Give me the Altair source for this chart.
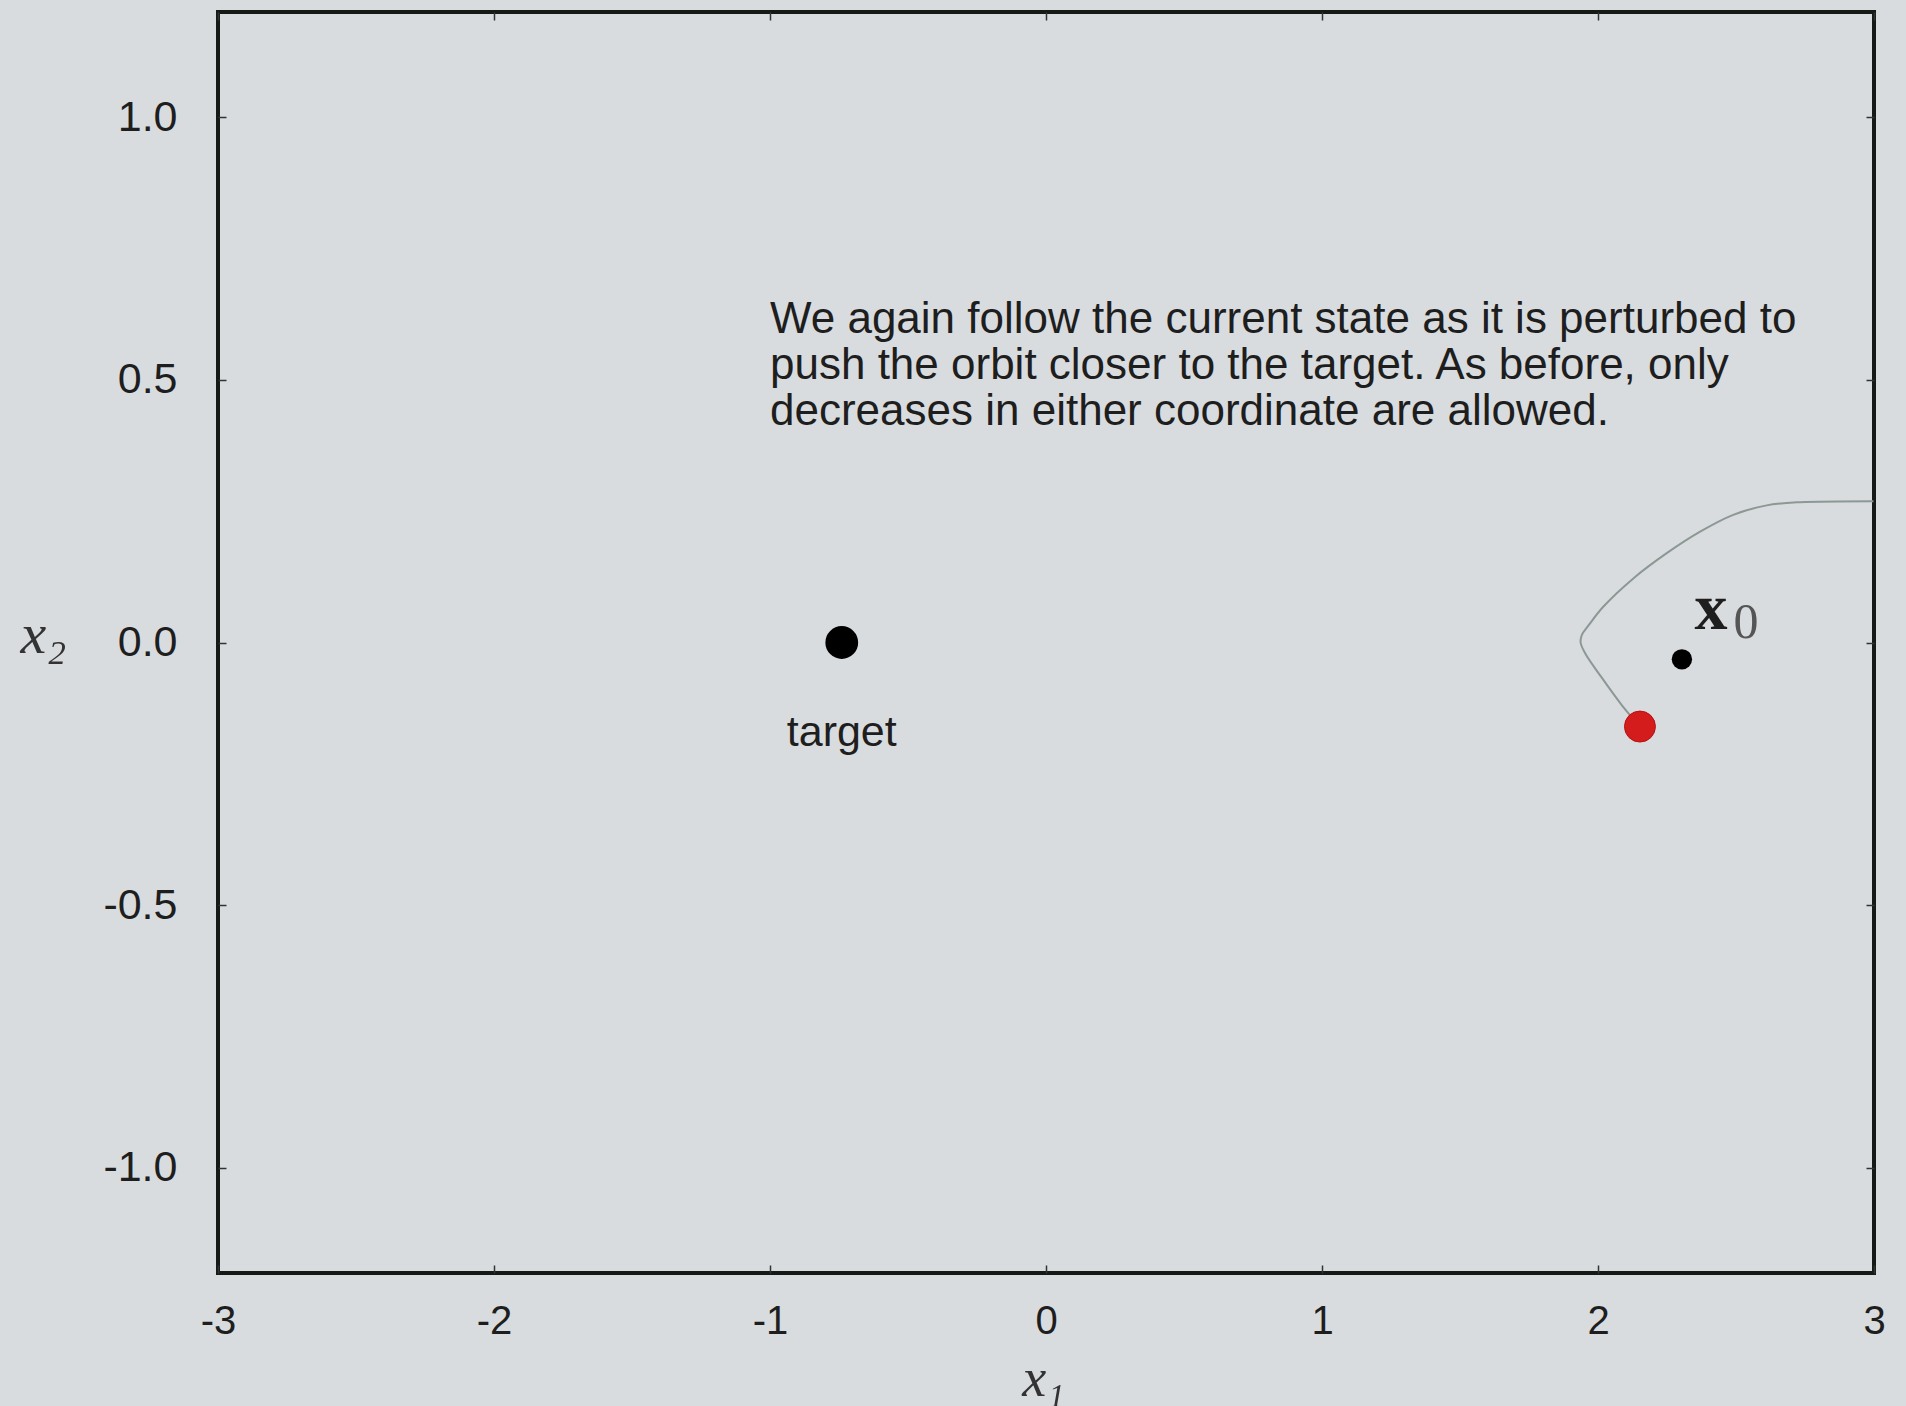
import altair as alt
import pandas as pd

# Axis ranges and tick positions
X_DOMAIN = [-3, 3]
Y_DOMAIN = [-1.2, 1.2]
x_ticks = [-3, -2, -1, 0, 1, 2, 3]
y_ticks = [-1.0, -0.5, 0.0, 0.5, 1.0]

# Key states in the (x1, x2) plane
target_xy = [-0.74, 0.0]
x0_xy = [2.304, -0.032]
current_xy = [2.152, -0.160]

# Orbit segment traced from the current (perturbed) state back out of the frame
orbit_x = [2.152, 2.086, 2.007, 1.955, 1.937, 1.942, 1.965, 2.019, 2.128, 2.249,
           2.370, 2.490, 2.611, 2.732, 2.998]
orbit_y = [-0.160, -0.119, -0.062, -0.022, 0.000, 0.015, 0.032, 0.068, 0.122, 0.170,
           0.211, 0.243, 0.261, 0.267, 0.269]

note_lines = [
    "We again follow the current state as it is perturbed to",
    "push the orbit closer to the target. As before, only",
    "decreases in either coordinate are allowed.",
]
note_xy = [-1.0, 0.59]

BG = "#d9dcdf"
INK = "#1e1e1e"
SANS = "Liberation Sans"
SERIF = "Liberation Serif"

W, H = 1656, 1261

xs = alt.Scale(domain=X_DOMAIN, nice=False, zero=False)
ys = alt.Scale(domain=Y_DOMAIN, nice=False, zero=False)

tick_style = dict(domain=False, grid=False, tickSize=8, tickWidth=1.5,
                  tickColor="#333333", offset=-8)

# plain hyphen for negative tick labels
x_label_expr = "datum.value < 0 ? '-' + format(-datum.value, 'd') : format(datum.value, 'd')"
y_label_expr = "datum.value < 0 ? '-' + format(-datum.value, '.1f') : format(datum.value, '.1f')"

ax_bottom = alt.Axis(orient="bottom", values=x_ticks, labelExpr=x_label_expr, title="x₁",
                     labelPadding=28, labelFont=SANS, labelFontSize=40,
                     labelColor=INK, labelFlush=False, labelOverlap=False,
                     titleFont=SERIF, titleFontStyle="italic", titleFontWeight="normal",
                     titleFontSize=54, titleColor="#333333",
                     titleX=825, titleY=130, titleBaseline="alphabetic",
                     titleAlign="center", **tick_style)
ax_left = alt.Axis(orient="left", values=y_ticks, labelExpr=y_label_expr, title="x₂",
                   labelPadding=41, labelFont=SANS, labelFontSize=43,
                   labelColor=INK, labelFlush=False, labelOverlap=False,
                   titleFont=SERIF, titleFontStyle="italic", titleFontWeight="normal",
                   titleFontSize=58, titleColor="#333333", titleAngle=0,
                   titleX=-183, titleY=640, titleBaseline="alphabetic",
                   titleAlign="center", **tick_style)
ax_top = alt.Axis(orient="top", values=x_ticks, labels=False, title=None, **tick_style)
ax_right = alt.Axis(orient="right", values=y_ticks, labels=False, title=None, **tick_style)

points = pd.DataFrame({
    "x": [target_xy[0], x0_xy[0], current_xy[0]],
    "y": [target_xy[1], x0_xy[1], current_xy[1]],
    "name": ["target", "x0", "current"],
})
orbit = pd.DataFrame({"x": orbit_x, "y": orbit_y, "step": list(range(len(orbit_x)))})
note = pd.DataFrame({"x": [note_xy[0]], "y": [note_xy[1]], "text": ["\n".join(note_lines)]})

# Orbit curve carries the top/right mirror ticks
orbit_layer = alt.Chart(orbit).mark_line(
    color="#8c9893", strokeWidth=2, interpolate="catmull-rom", clip=True
).encode(
    x=alt.X("x:Q", scale=xs, axis=ax_top),
    y=alt.Y("y:Q", scale=ys, axis=ax_right),
    order="step:Q",
)

target_layer = alt.Chart(points).transform_filter(alt.datum.name == "target").mark_circle(
    size=1075, color="#000000", opacity=1
).encode(
    x=alt.X("x:Q", scale=xs, axis=ax_bottom),
    y=alt.Y("y:Q", scale=ys, axis=ax_left),
)

x0_layer = alt.Chart(points).transform_filter(alt.datum.name == "x0").mark_circle(
    size=415, color="#000000", opacity=1
).encode(
    x=alt.X("x:Q", scale=xs, axis=None),
    y=alt.Y("y:Q", scale=ys, axis=None),
)

current_layer = alt.Chart(points).transform_filter(alt.datum.name == "current").mark_circle(
    size=960, color="#d41c1c", opacity=1, stroke="#b51212", strokeWidth=1
).encode(
    x=alt.X("x:Q", scale=xs, axis=None),
    y=alt.Y("y:Q", scale=ys, axis=None),
)

target_label = alt.Chart(points).transform_filter(alt.datum.name == "target").mark_text(
    text="target", font=SANS, fontSize=43, color=INK, align="center",
    baseline="alphabetic", dy=103
).encode(
    x=alt.X("x:Q", scale=xs, axis=None),
    y=alt.Y("y:Q", scale=ys, axis=None),
)

x0_label = alt.Chart(points).transform_filter(alt.datum.name == "x0").mark_text(
    text="x", font=SERIF, fontSize=66, fontWeight="bold", color=INK,
    align="center", baseline="middle", dx=29, dy=-50
).encode(
    x=alt.X("x:Q", scale=xs, axis=None),
    y=alt.Y("y:Q", scale=ys, axis=None),
)

x0_sub = alt.Chart(points).transform_filter(alt.datum.name == "x0").mark_text(
    text="0", font=SERIF, fontSize=50, fontWeight="normal", color="#555555",
    align="center", baseline="middle", dx=64, dy=-36
).encode(
    x=alt.X("x:Q", scale=xs, axis=None),
    y=alt.Y("y:Q", scale=ys, axis=None),
)

note_layer = alt.Chart(note).mark_text(
    font=SANS, fontSize=44, color=INK, align="left", baseline="alphabetic",
    lineBreak="\n", lineHeight=46
).encode(
    x=alt.X("x:Q", scale=xs, axis=None),
    y=alt.Y("y:Q", scale=ys, axis=None),
    text="text:N",
)

chart = alt.layer(
    orbit_layer, target_layer, x0_layer, current_layer,
    target_label, x0_label, x0_sub, note_layer,
).resolve_axis(
    x="independent", y="independent"
).properties(
    width=W, height=H,
    autosize=alt.AutoSizeParams(type="none"),
    padding={"left": 218, "top": 12, "right": 32, "bottom": 133},
    background=BG,
).configure_view(
    stroke="#151a17", strokeWidth=4, fill=BG
)

chart.save("out.html", embed_options={"renderer": "svg", "actions": False})
